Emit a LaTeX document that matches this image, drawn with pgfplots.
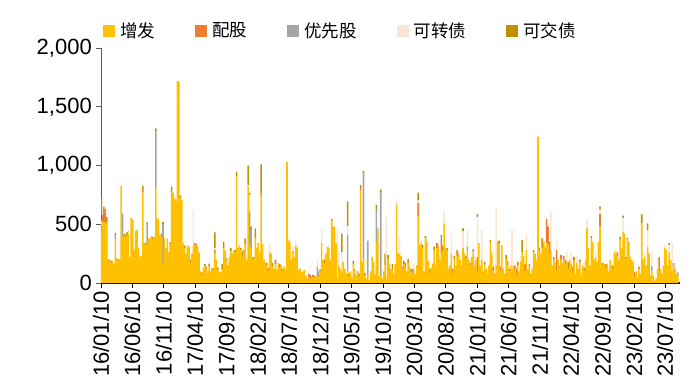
\documentclass[border=0pt]{standalone}
\usepackage{fontspec}
\setmainfont{Liberation Sans}
\newfontfamily\cjk{Noto Sans CJK SC}
\usepackage{pgfplots}
\pgfplotsset{compat=1.18}
\usepackage{pgfplotstable}
\usetikzlibrary{calc}
\definecolor{cA}{HTML}{FFC000}
\definecolor{cB}{HTML}{ED7D31}
\definecolor{cC}{HTML}{A5A5A5}
\definecolor{cD}{HTML}{FBE5D6}
\definecolor{cE}{HTML}{BF9000}
\pgfplotstableread{
a b c d e
430 0 60 40 0
520 60 0 140 0
520 110 0 0 20
500 100 0 0 30
520 40 0 0 0
180 0 0 0 20
200 0 0 0 0
170 20 0 0 0
190 0 0 0 0
160 0 0 10 0
370 0 40 0 15
210 0 0 0 0
190 0 0 0 15
200 0 0 0 0
825 0 0 0 0
390 0 200 0 0
400 0 0 0 15
380 30 0 0 0
410 0 0 0 20
420 0 0 10 10
220 0 0 0 0
555 0 0 0 0
540 0 0 0 0
280 0 0 0 0
440 0 0 15 0
450 0 0 10 0
300 0 0 0 0
225 0 0 0 0
230 0 0 0 0
770 30 0 0 25
340 0 0 0 0
320 0 0 0 20
330 0 170 0 15
380 0 0 0 0
380 0 0 0 0
400 0 0 0 0
370 0 0 0 20
390 0 0 0 0
805 0 490 0 20
550 0 0 0 0
540 0 0 0 0
410 0 0 0 0
400 0 0 0 20
170 0 330 0 20
380 0 0 0 0
300 0 0 0 0
380 0 0 0 0
260 0 0 0 0
330 0 0 0 15
775 0 0 0 45
770 0 0 0 0
720 0 0 0 0
700 0 0 0 0
1720 0 0 0 0
1715 0 0 0 0
720 0 0 0 25
710 0 0 0 0
340 0 0 0 0
300 0 0 0 20
250 0 0 0 0
320 0 0 0 0
310 0 0 0 0
180 0 0 0 20
250 0 0 0 0
320 0 0 300 0
320 20 0 0 0
300 20 0 0 10
310 0 0 0 0
260 0 0 0 0
100 0 0 0 0
60 0 0 0 30
130 0 0 0 0
140 0 0 0 20
120 20 0 0 0
90 0 0 0 0
140 0 0 0 25
100 0 0 0 0
130 0 0 0 0
110 0 0 0 15
250 30 0 20 130
200 0 0 0 0
110 0 0 0 20
100 0 0 0 0
90 0 0 0 0
120 0 0 0 40
295 0 0 0 55
280 0 0 0 0
190 0 0 0 20
150 0 0 0 0
220 0 0 0 0
270 0 0 0 30
250 0 0 0 0
280 0 0 0 0
260 0 0 0 20
905 0 0 0 42
300 0 0 0 0
320 0 0 0 0
280 0 0 0 20
230 0 0 0 40
260 20 0 0 0
330 0 0 0 50
200 0 0 0 0
820 0 0 10 170
330 0 280 140 20
300 0 150 0 30
220 0 0 0 0
200 0 0 0 20
380 0 0 0 85
300 0 0 0 0
340 0 0 0 0
260 0 0 30 0
750 20 0 0 240
330 0 0 0 0
200 0 0 0 0
180 0 0 0 0
150 0 0 0 20
100 30 0 0 0
260 0 0 60 0
250 0 0 0 0
140 0 0 0 30
120 0 0 0 0
160 0 0 0 40
110 0 0 0 0
170 0 0 0 0
130 0 0 0 30
150 0 0 0 0
100 0 0 0 20
140 0 0 0 0
120 0 0 0 0
1030 0 0 0 0
360 0 0 20 0
340 0 0 30 0
200 0 0 0 0
250 20 0 40 0
220 0 0 0 0
320 0 0 40 0
300 0 0 20 0
110 0 0 0 0
120 0 0 10 0
90 0 0 0 0
100 0 0 0 0
110 0 0 0 0
60 0 0 0 0
40 0 0 0 0
50 30 0 0 0
30 40 0 0 0
60 0 0 0 0
50 0 0 0 20
40 20 0 0 0
60 0 0 0 0
50 0 90 55 0
60 0 40 0 0
100 0 0 0 15
340 0 0 140 0
200 0 0 0 0
170 0 0 0 30
250 0 0 0 0
310 0 0 0 0
300 0 0 20 0
200 0 0 0 0
530 0 0 0 15
480 0 0 0 0
480 0 0 0 0
340 0 0 0 0
40 0 0 420 0
150 0 0 100 0
120 0 0 0 0
100 0 0 160 160
180 0 0 0 0
120 0 0 0 0
80 0 0 0 0
100 0 310 75 210
60 0 0 0 20
100 0 0 0 0
40 0 0 30 0
160 0 0 0 30
120 0 0 0 0
70 0 0 0 0
80 20 0 0 0
60 0 0 0 20
790 25 0 0 20
180 0 0 0 0
200 0 730 0 25
60 0 0 0 25
40 0 0 0 0
60 0 300 0 0
20 0 0 0 0
100 0 0 0 0
225 0 0 0 0
180 0 0 0 0
70 0 0 20 0
350 0 270 0 45
465 0 0 0 0
60 0 0 0 0
60 0 715 0 20
40 0 0 0 0
100 0 0 0 0
150 0 0 0 100
40 0 0 525 0
200 0 0 0 40
165 0 0 0 0
120 0 0 0 0
120 0 0 0 40
70 0 0 30 0
160 0 0 0 0
665 0 0 40 0
250 0 0 0 0
250 0 0 145 0
230 0 0 0 0
120 20 0 0 0
160 0 0 0 30
130 40 0 0 0
100 0 0 0 0
165 0 0 0 40
140 0 0 50 0
90 0 0 0 30
80 0 40 0 0
120 0 0 40 0
80 0 0 0 0
150 0 0 0 0
565 118 0 20 67
320 0 0 0 0
340 0 0 20 0
300 0 0 0 25
100 0 0 0 0
380 0 0 0 20
350 0 0 30 0
190 0 0 0 0
80 0 0 0 40
130 0 0 0 0
165 0 0 0 0
280 0 0 0 30
150 0 0 20 0
300 40 0 0 0
320 0 0 0 0
200 0 0 40 0
250 90 0 0 68
280 40 0 0 0
508 0 0 104 0
300 0 0 0 0
280 0 0 0 20
120 0 0 30 0
150 0 0 0 0
250 0 0 170 0
80 40 0 0 0
200 0 0 0 30
150 0 0 0 0
230 50 0 0 0
250 0 0 20 0
200 0 0 0 0
150 0 0 0 0
300 0 0 140 25
250 0 0 0 0
200 30 0 0 0
280 0 30 140 0
200 0 0 0 0
150 0 0 0 20
220 0 0 0 0
260 0 30 0 0
150 0 0 80 0
200 0 0 0 0
80 140 0 340 27
340 0 0 0 0
150 0 0 0 0
200 0 0 250 0
100 0 0 0 0
160 0 0 0 20
120 0 0 0 0
80 0 0 40 0
150 0 0 0 0
350 0 0 0 15
250 0 0 30 0
100 0 0 0 40
60 20 0 0 0
150 0 0 485 0
350 0 0 0 0
340 0 0 0 20
100 40 0 0 0
320 0 0 0 0
120 0 0 20 0
80 0 0 0 0
200 0 0 0 40
150 40 0 0 0
100 0 0 0 20
150 0 0 0 0
120 0 0 330 0
150 0 0 0 0
120 30 0 0 0
60 60 0 20 0
150 0 0 0 30
100 0 0 0 0
180 0 0 50 0
265 0 0 0 100
230 0 0 0 0
100 60 0 0 0
280 0 0 140 0
120 0 0 0 0
140 0 0 0 20
80 0 0 0 0
120 0 0 30 0
265 0 0 0 15
250 0 0 0 0
200 0 0 0 0
1245 0 0 0 0
280 0 0 0 20
250 0 0 0 0
300 0 0 0 80
350 0 0 0 0
300 0 0 20 0
340 195 0 0 10
330 150 0 0 0
250 100 0 0 0
270 0 0 337 0
150 0 0 0 0
200 20 0 0 0
170 0 0 0 0
110 170 0 85 0
200 0 0 0 0
150 0 0 0 0
200 40 0 0 0
170 0 0 50 0
190 0 0 0 40
150 50 0 0 0
180 0 0 80 0
120 0 0 0 60
200 0 0 0 0
160 0 0 100 0
100 40 0 0 0
190 0 0 0 30
80 0 0 0 0
170 0 0 60 0
120 0 0 0 0
180 0 0 0 20
60 0 0 40 0
150 0 0 0 0
100 0 0 0 30
200 0 0 0 0
465 0 0 85 0
300 0 0 0 0
150 0 0 0 0
380 0 0 0 20
350 0 0 0 0
200 0 0 0 0
220 0 0 60 0
180 0 0 0 0
350 0 0 0 0
480 107 0 40 23
170 0 0 0 0
150 0 0 0 20
160 0 0 0 0
120 40 0 0 0
165 0 0 0 0
100 0 0 40 0
200 0 0 0 0
150 0 0 0 0
120 0 0 0 30
265 0 0 0 0
250 0 0 40 0
230 30 0 0 0
200 0 0 0 0
370 0 0 0 20
300 0 0 0 0
437 0 0 116 20
420 0 0 0 0
200 0 0 0 20
370 0 0 0 15
350 0 0 0 0
225 0 0 0 0
200 0 0 0 0
180 0 0 0 0
60 30 0 0 0
100 0 0 0 0
40 0 0 30 0
120 0 0 0 20
80 0 0 0 0
508 0 0 0 77
200 0 0 0 0
225 0 0 20 0
150 0 0 0 0
310 0 0 140 58
250 0 0 0 0
60 0 0 0 0
100 0 40 127 0
60 0 0 0 0
20 0 0 0 0
40 0 0 0 0
120 0 0 0 0
110 110 0 0 0
120 0 0 0 0
80 0 0 0 0
150 0 0 0 0
300 0 0 30 0
280 0 0 0 0
150 0 0 0 0
260 0 0 60 20
200 0 0 0 0
100 0 0 240 0
150 0 20 0 0
120 0 0 50 0
80 0 0 0 0
60 0 30 0 0
}\data

\begin{document}
\begin{tikzpicture}
\begin{axis}[
  at={(0,0)}, anchor=south west,
  scale only axis, width=579pt, height=235pt,
  ybar stacked, bar width=1.1,
  xmin=0, xmax=401.5, ymin=0, ymax=2000,
  axis x line*=bottom, axis y line*=left,
  x axis line style={black, line width=1.2pt},
  y axis line style={black!65, line width=0.9pt},
  tick align=outside, major tick length=5pt,
  xtick style={black, line width=0.8pt},
  ytick style={black!65, line width=0.8pt},
  ytick={0,500,1000,1500,2000},
  /pgf/number format/assume math mode=true,
  /pgf/number format/1000 sep={,},
  xtick={0,21.71,43.57,65.14,87.0,108.86,130.29,152.14,173.71,195.57,217.29,239.14,261.0,282.57,304.43,326.0,347.86,369.71,391.14},
  xticklabels={16/01/10,16/06/10,16/11/10,17/04/10,17/09/10,18/02/10,18/07/10,18/12/10,19/05/10,19/10/10,20/03/10,20/08/10,21/01/10,21/06/10,21/11/10,22/04/10,22/09/10,23/02/10,23/07/10},
  xticklabel style={rotate=90, anchor=east, inner sep=3pt},
  yticklabel style={inner sep=4pt},
  ticklabel style={font=\fontsize{22}{22}\selectfont},
  legend columns=5,
  legend style={at={(0,1)}, anchor=south west, xshift=2pt, yshift=7pt,
    draw=none, fill=none, inner sep=0pt,
    font=\cjk\fontsize{17.5}{17.5}\selectfont,
    /tikz/every odd column/.append style={column sep=3pt},
    /tikz/every even column/.append style={column sep=38pt}},
  legend image code/.code={\fill[#1] (0pt,-6pt) rectangle (12pt,6pt);},
]
\addplot[fill=cA, draw=none] table[x expr=\coordindex, y=a]{\data};
\addplot[fill=cB, draw=none] table[x expr=\coordindex, y=b]{\data};
\addplot[fill=cC, draw=none] table[x expr=\coordindex, y=c]{\data};
\addplot[fill=cD, draw=none] table[x expr=\coordindex, y=d]{\data};
\addplot[fill=cE, draw=none] table[x expr=\coordindex, y=e]{\data};
\legend{增发,配股,优先股,可转债,可交债}
\end{axis}
\pgfresetboundingbox
\path[use as bounding box] (-101pt,-98pt) rectangle (595pt,283pt);
\end{tikzpicture}
\end{document}
